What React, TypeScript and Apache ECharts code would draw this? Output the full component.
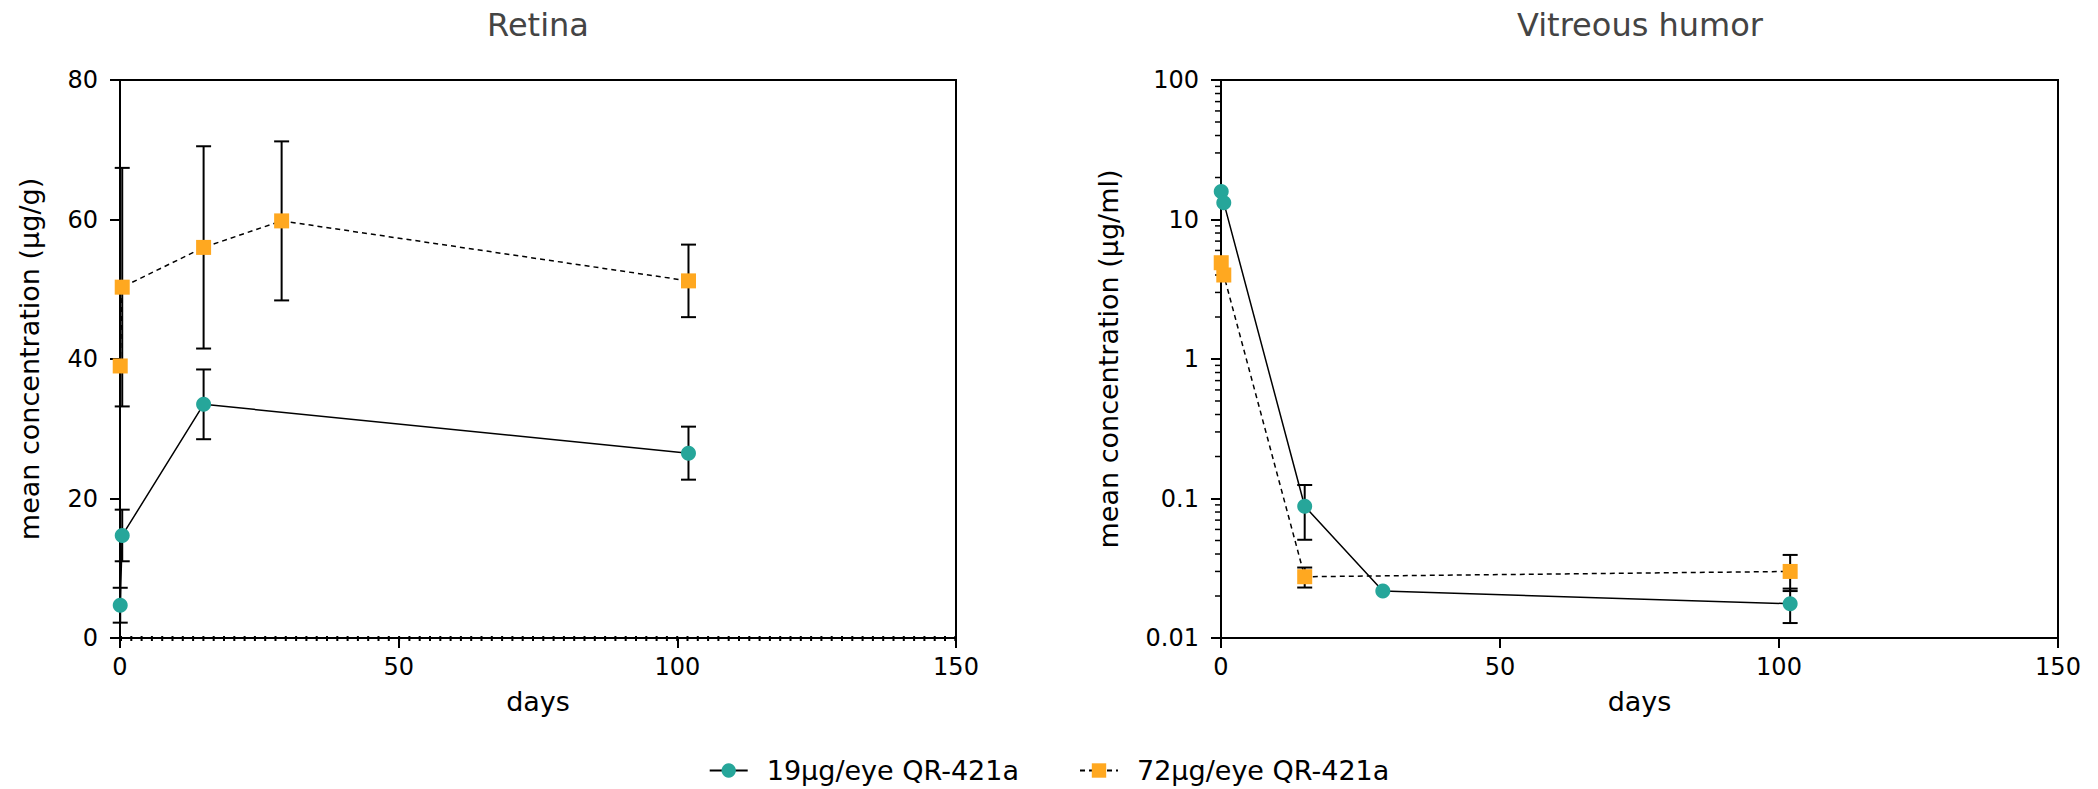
import React, { useEffect, useRef } from "react";
import * as echarts from "echarts";

// ---------- data ----------
const SERIES_19 = "19µg/eye QR-421a";
const SERIES_72 = "72µg/eye QR-421a";

// Retina (µg/g)
const retinaDays19 = [0.04, 0.4, 15, 102];
const retinaMean19 = [4.7, 14.7, 33.5, 26.5];
const retinaSd19 = [2.5, 3.7, 5.0, 3.8];

const retinaDays72 = [0.04, 0.4, 15, 29, 102];
const retinaMean72 = [39.0, 50.3, 56.0, 59.8, 51.2];
const retinaSd72 = [null, 17.1, 14.5, 11.4, 5.2];

// Vitreous humor (µg/ml)
const vitDays19 = [0.04, 0.5, 15, 29, 102];
const vitMean19 = [15.9, 13.2, 0.088, 0.0217, 0.0176];
const vitLow19 = [null, null, 0.0506, null, 0.0128];
const vitHigh19 = [null, null, 0.125, null, 0.0226];

const vitDays72 = [0.04, 0.5, 15, 102];
const vitMean72 = [4.9, 4.0, 0.0275, 0.03];
const vitLow72 = [null, null, 0.023, 0.0217];
const vitHigh72 = [null, null, 0.032, 0.0394];

const logMinorTicks = [
  0.02, 0.03, 0.04, 0.05, 0.06, 0.07, 0.08, 0.09,
  0.2, 0.3, 0.4, 0.5, 0.6, 0.7, 0.8, 0.9,
  2, 3, 4, 5, 6, 7, 8, 9,
  20, 30, 40, 50, 60, 70, 80, 90,
];

const retinaBaseline = [0];

// ---------- styles ----------
const TEAL = "#26a69a";
const ORANGE = "#ffa820";
const FONT = "DejaVu Sans";

function pairs(xs: number[], ys: number[]) {
  return xs.map((x, i) => [x, ys[i]]);
}

function errorBars(
  name: string,
  xs: number[],
  lows: (number | null)[],
  highs: (number | null)[],
  axisIndex: number
) {
  const data: number[][] = [];
  xs.forEach((x, i) => {
    const lo = lows[i];
    const hi = highs[i];
    if (lo != null && hi != null) data.push([x, lo, hi]);
  });
  return {
    name,
    type: "custom",
    xAxisIndex: axisIndex,
    yAxisIndex: axisIndex,
    z: 1,
    silent: true,
    clip: false,
    encode: { x: 0, y: [1, 2] },
    data,
    renderItem: (_params: any, api: any) => {
      const lo = api.coord([api.value(0), api.value(1)]);
      const hi = api.coord([api.value(0), api.value(2)]);
      const w = 7.5;
      const st = { stroke: "#000", lineWidth: 2 };
      return {
        type: "group",
        children: [
          { type: "line", shape: { x1: lo[0], y1: lo[1], x2: hi[0], y2: hi[1] }, style: st },
          { type: "line", shape: { x1: lo[0] - w, y1: lo[1], x2: lo[0] + w, y2: lo[1] }, style: st },
          { type: "line", shape: { x1: hi[0] - w, y1: hi[1], x2: hi[0] + w, y2: hi[1] }, style: st },
        ],
      };
    },
  };
}

function xAxisCfg(gridIndex: number) {
  return {
    type: "value",
    gridIndex,
    min: 0,
    max: 150,
    interval: 50,
    name: "days",
    nameLocation: "middle",
    nameGap: 50,
    nameTextStyle: { color: "#000", fontSize: 27, fontFamily: FONT },
    axisLine: { show: true, onZero: false, lineStyle: { color: "#000", width: 2 } },
    axisTick: { show: true, length: 10, lineStyle: { color: "#000", width: 2 } },
    axisLabel: { color: "#000", fontSize: 24, fontFamily: FONT, margin: 17 },
    splitLine: { show: false },
  };
}

export default function App() {
  const ref = useRef<HTMLDivElement>(null);

  useEffect(() => {
    document.body.style.margin = "0";
    if (!ref.current) return;
    const chart = echarts.init(ref.current, undefined, { renderer: "svg" });

    const lineCommon = {
      type: "line",
      symbolSize: 15,
      z: 3,
      silent: true,
    };

    const titleStyle = {
      fill: "#444",
      fontSize: 32,
      fontFamily: FONT,
      textAlign: "center",
      textVerticalAlign: "middle",
      align: "center",
      verticalAlign: "middle",
    };

    const option: any = {
      animation: false,
      backgroundColor: "#fff",
      graphic: [
        { type: "text", x: 538, y: 25, style: { ...titleStyle, text: "Retina" } },
        { type: "text", x: 1640, y: 25, style: { ...titleStyle, text: "Vitreous humor" } },
      ],
      legend: {
        data: [SERIES_19, SERIES_72],
        left: "center",
        top: 757,
        padding: 0,
        itemWidth: 38,
        itemHeight: 18,
        itemGap: 60,
        textStyle: {
          color: "#000",
          fontSize: 27,
          fontFamily: FONT,
          padding: [0, 0, 0, 14],
        },
      },
      grid: [
        {
          left: 120,
          right: 2098 - 956,
          top: 80,
          bottom: 789 - 638,
          show: true,
          borderColor: "#000",
          borderWidth: 2,
          outerBoundsMode: "none",
          containLabel: false,
        },
        {
          left: 1221,
          right: 2098 - 2058,
          top: 80,
          bottom: 789 - 638,
          show: true,
          borderColor: "#000",
          borderWidth: 2,
          outerBoundsMode: "none",
          containLabel: false,
        },
      ],
      xAxis: [xAxisCfg(0), xAxisCfg(1)],
      yAxis: [
        {
          type: "value",
          gridIndex: 0,
          min: 0,
          max: 80,
          interval: 20,
          name: "mean concentration (µg/g)",
          nameLocation: "middle",
          nameRotate: 90,
          nameGap: 77,
          nameTextStyle: { color: "#000", fontSize: 27, fontFamily: FONT },
          axisLine: { show: true, onZero: false, lineStyle: { color: "#000", width: 2 } },
          axisTick: { show: true, length: 10, lineStyle: { color: "#000", width: 2 } },
          axisLabel: { color: "#000", fontSize: 24, fontFamily: FONT, margin: 22 },
          splitLine: { show: false },
        },
        {
          type: "log",
          gridIndex: 1,
          logBase: 10,
          min: 0.01,
          max: 100,
          name: "mean concentration (µg/ml)",
          nameLocation: "middle",
          nameRotate: 90,
          nameGap: 99,
          nameTextStyle: { color: "#000", fontSize: 27, fontFamily: FONT },
          axisLine: { show: true, onZero: false, lineStyle: { color: "#000", width: 2 } },
          axisTick: { show: true, length: 10, lineStyle: { color: "#000", width: 2 } },
          axisLabel: {
            color: "#000",
            fontSize: 24,
            fontFamily: FONT,
            margin: 22,
            formatter: (v: number) => String(Number(v.toPrecision(3))),
          },
          splitLine: { show: false },
        },
      ],
      series: [
        errorBars(
          "err19r",
          retinaDays19,
          retinaMean19.map((m, i) => m - retinaSd19[i]),
          retinaMean19.map((m, i) => m + retinaSd19[i]),
          0
        ),
        errorBars(
          "err72r",
          retinaDays72,
          retinaMean72.map((m, i) => (retinaSd72[i] == null ? null : m - (retinaSd72[i] as number))),
          retinaMean72.map((m, i) => (retinaSd72[i] == null ? null : m + (retinaSd72[i] as number))),
          0
        ),
        errorBars("err19v", vitDays19, vitLow19, vitHigh19, 1),
        errorBars("err72v", vitDays72, vitLow72, vitHigh72, 1),
        {
          name: "minorTicks",
          type: "custom",
          xAxisIndex: 1,
          yAxisIndex: 1,
          silent: true,
          clip: false,
          z: 1,
          encode: { x: 0, y: 1 },
          data: logMinorTicks.map((v) => [0, v]),
          renderItem: (_p: any, api: any) => {
            const p = api.coord([0, api.value(1)]);
            return {
              type: "line",
              shape: { x1: p[0] - 6, y1: p[1], x2: p[0], y2: p[1] },
              style: { stroke: "#000", lineWidth: 1.5 },
            };
          },
        },
        {
          ...lineCommon,
          name: SERIES_19,
          xAxisIndex: 0,
          yAxisIndex: 0,
          symbol: "circle",
          itemStyle: { color: TEAL },
          lineStyle: { color: "#000", width: 1.5, type: "solid" },
          data: pairs(retinaDays19, retinaMean19),
          markLine: {
            silent: true,
            symbol: "none",
            label: { show: false },
            lineStyle: { color: "#000", width: 5, type: [2, 8.3] },
            data: retinaBaseline.map((v) => ({ yAxis: v })),
          },
        },
        {
          ...lineCommon,
          name: SERIES_72,
          xAxisIndex: 0,
          yAxisIndex: 0,
          symbol: "rect",
          symbolSize: 15,
          itemStyle: { color: ORANGE },
          lineStyle: { color: "#000", width: 1.5, type: [5, 4] },
          data: pairs(retinaDays72, retinaMean72),
        },
        {
          ...lineCommon,
          name: SERIES_19,
          xAxisIndex: 1,
          yAxisIndex: 1,
          symbol: "circle",
          itemStyle: { color: TEAL },
          lineStyle: { color: "#000", width: 1.5, type: "solid" },
          data: pairs(vitDays19, vitMean19),
        },
        {
          ...lineCommon,
          name: SERIES_72,
          xAxisIndex: 1,
          yAxisIndex: 1,
          symbol: "rect",
          symbolSize: 15,
          itemStyle: { color: ORANGE },
          lineStyle: { color: "#000", width: 1.5, type: [5, 4] },
          data: pairs(vitDays72, vitMean72),
        },
      ],
    };

    chart.setOption(option);
    return () => chart.dispose();
  }, []);

  return <div ref={ref} style={{ width: 2098, height: 789 }} />;
}
